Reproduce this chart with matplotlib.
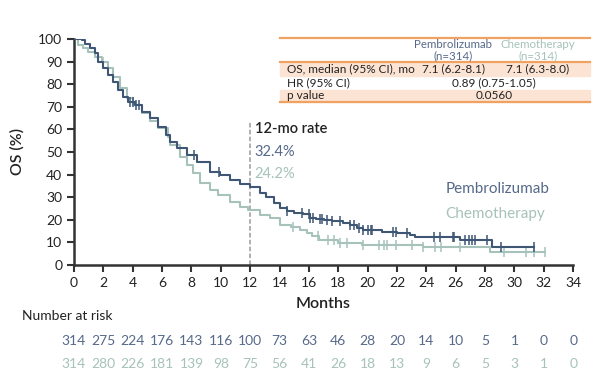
import numpy as np
import matplotlib
matplotlib.use("Agg")
import matplotlib.pyplot as plt
from matplotlib.patches import Rectangle
from matplotlib.lines import Line2D

plt.rcParams['font.family'] = ['Lato', 'DejaVu Sans']

# ---- data ----
pem_t = [0, 0.52, 0.75, 1.09, 1.43, 1.66, 2.0, 2.34, 2.68, 3.02, 3.36, 3.7, 4.16, 4.6, 5.18,
         5.74, 6.3, 6.54, 7.0, 7.67, 8.36, 9.26, 9.95, 10.63, 11.3, 12.0, 12.67, 13.1, 13.6,
         14.03, 14.5, 15.0, 15.6, 16.1, 16.5, 17.0, 17.6, 18.3, 18.8, 19.3, 19.7, 20.5, 21.0,
         22.0, 22.9, 23.2, 26.3, 28.5, 31.3]
pem_s = [100, 99.5, 98, 95.9, 93.7, 90, 87, 84, 81, 77.4, 74.5, 72.3, 70.8, 67.8, 64.9,
         61.2, 57.5, 54.6, 51.6, 48.7, 45.7, 41.3, 39.8, 37.6, 35.8, 34.6, 31.7, 30, 27.3,
         25.1, 24, 23, 22.5, 21, 20.3, 20, 19.5, 18.5, 17.5, 16.5, 15.7, 15.3, 14.5,
         14.2, 13.3, 12.5, 11.1, 8.1, 8.1]
chemo_t = [0, 0.3, 0.63, 0.97, 1.43, 1.89, 2.34, 2.68, 3.13, 3.59, 4.04, 4.6, 5.18, 5.74,
           6.42, 6.54, 7.22, 7.67, 8.13, 8.58, 9.26, 9.83, 10.6, 11.3, 11.87, 12.67, 13.35,
           14.0, 14.8, 15.4, 15.9, 16.2, 16.7, 18.0, 19.6, 23.8, 28.3, 32.1]
chemo_s = [100, 97.3, 95.9, 94.4, 92.2, 90, 87, 83.3, 78.2, 73.8, 70.8, 67.1, 63.7, 60.5,
           56.8, 53.1, 47.9, 44.2, 40.6, 36.2, 33.2, 31, 28, 25.8, 24.3, 22.1, 20.7,
           17.7, 17.0, 15.5, 14.0, 12.8, 11.1, 9.9, 8.8, 7.8, 5.9, 5.9]
pem_cens = [3.8, 4.0, 4.2, 4.4, 8.2, 9.9, 14.5, 15.5, 16.0, 16.1, 16.3, 16.76, 16.9, 17.2, 17.6,
            18.1, 18.8, 19.1, 19.4, 19.7, 20.0, 20.2, 20.3, 21.7, 21.9, 22.7, 24.5, 24.9,
            25.8, 25.9, 26.6, 26.9, 27.1, 27.3, 28.1, 29.1, 31.3]
chemo_cens = [2.0, 14.9, 16.6, 17.3, 17.7, 18.1, 18.6, 19.7, 20.8, 21.1, 21.3, 21.9, 23.0,
              23.8, 24.6, 25.0, 26.3, 29.3, 30.8, 31.3, 32.1]
risk_months = list(range(0, 35, 2))
risk_pem = [314, 275, 224, 176, 143, 116, 100, 73, 63, 46, 28, 20, 14, 10, 5, 1, 0, 0]
risk_chemo = [314, 280, 226, 181, 139, 98, 75, 56, 41, 26, 18, 13, 9, 6, 5, 3, 1, 0]

rate_pem = "32.4%"
rate_chemo = "24.2%"

table_header = ["", "Pembrolizumab\n(n=314)", "Chemotherapy\n(n=314)"]
table_rows = [["OS, median (95% CI), mo", "7.1 (6.2-8.1)", "7.1 (6.3-8.0)"],
              ["HR (95% CI)", "0.89 (0.75-1.05)", None],
              ["p value", "0.0560", None]]

C_PEM = "#3f5674"
C_CHEMO = "#a6c2ba"
C_PEM_TXT = "#56698a"
C_AX = "#333333"
C_OR = "#f0a263"
C_SHADE = "#fce4d4"

def surv_at(t, ts, ss):
    idx = np.searchsorted(ts, t, side='right') - 1
    return np.array(ss)[np.clip(idx, 0, len(ss) - 1)]

fig = plt.figure(figsize=(6.04, 3.85), dpi=100)
ax = fig.add_axes([0.1225, 0.3117, 0.8265, 0.587])

ax.plot(chemo_t, chemo_s, drawstyle='steps-post', color=C_CHEMO, lw=1.5, zorder=3)
ax.plot(pem_t, pem_s, drawstyle='steps-post', color=C_PEM, lw=1.5, zorder=4)
ax.plot(chemo_cens, surv_at(np.array(chemo_cens), chemo_t, chemo_s), ls='none', marker='|',
        ms=7, mew=1.1, color=C_CHEMO, zorder=3)
ax.plot(pem_cens, surv_at(np.array(pem_cens), pem_t, pem_s), ls='none', marker='|',
        ms=7, mew=1.1, color=C_PEM, zorder=4)

ax.plot([12, 12], [0, 63], ls=(0, (3, 1.5)), color="#9a9a9a", lw=1.1, zorder=2)
ax.text(12.3, 60.2, "12-mo rate", fontsize=10.5, fontweight='semibold', color="#222222", va='center')
ax.text(12.3, 50, rate_pem, fontsize=10.5, color=C_PEM_TXT, va='center')
ax.text(12.3, 40.3, rate_chemo, fontsize=10.5, color=C_CHEMO, va='center')
ax.text(25.3, 33.6, "Pembrolizumab", fontsize=11, color=C_PEM_TXT, va='center')
ax.text(25.3, 22.6, "Chemotherapy", fontsize=11, color=C_CHEMO, va='center')

ax.set_xlim(0, 34)
ax.set_ylim(0, 100)
ax.set_xticks(range(0, 35, 2))
ax.set_yticks(range(0, 101, 10))
ax.tick_params(direction='out', length=5, width=1.5, color=C_AX, labelsize=10, labelcolor="#222222")
for s in ['top', 'right']:
    ax.spines[s].set_visible(False)
for s in ['left', 'bottom']:
    ax.spines[s].set_linewidth(1.8)
    ax.spines[s].set_color(C_AX)
ax.set_xlabel("Months", fontsize=11.5, fontweight='semibold', color="#222222", labelpad=6)
ax.set_ylabel("OS (%)", fontsize=11.5, fontweight='semibold', color="#222222", labelpad=10)

# number at risk
fig.text(22 / 604, 1 - 316 / 385, "Number at risk", fontsize=10, color="#222222", va='center')
for m, a, b in zip(risk_months, risk_pem, risk_chemo):
    xf = ax.transData.transform((m, 0))[0] / fig.bbox.width
    fig.text(xf, 1 - 341 / 385, str(a), fontsize=10, color=C_PEM_TXT, ha='center', va='center')
    fig.text(xf, 1 - 364 / 385, str(b), fontsize=10, color=C_CHEMO, ha='center', va='center')

# table
def fy(p):
    return 1 - p / 385
def fx(p):
    return p / 604
L, R = 280, 590
row_edges = [62.3, 76, 89.5, 101.5]
for i, (y0, y1) in enumerate(zip(row_edges[:-1], row_edges[1:])):
    if i != 1:
        fig.patches.append(Rectangle((fx(L), fy(y1)), fx(R) - fx(L), fy(y0) - fy(y1),
                                     transform=fig.transFigure, color=C_SHADE, zorder=0))
for yl in [38.3, 62.3, 101.5]:
    fig.lines.append(Line2D([fx(L), fx(R)], [fy(yl), fy(yl)], transform=fig.transFigure,
                            color=C_OR, lw=1.6))
col_x = [287, 453, 538]
merged_x = 494
fig.text(fx(col_x[1]), fy(50), table_header[1], fontsize=8.3, color=C_PEM_TXT, ha='center',
         va='center', linespacing=1.0)
fig.text(fx(col_x[2]), fy(50), table_header[2], fontsize=8.3, color=C_CHEMO, ha='center',
         va='center', linespacing=1.0)
for i, row in enumerate(table_rows):
    yc = fy((row_edges[i] + row_edges[i + 1]) / 2)
    fig.text(fx(col_x[0]), yc, row[0], fontsize=8.5, color="#222222", va='center')
    if row[2] is None:
        fig.text(fx(merged_x), yc, row[1], fontsize=8.5, color="#222222", ha='center', va='center')
    else:
        fig.text(fx(col_x[1]), yc, row[1], fontsize=8.5, color="#222222", ha='center', va='center')
        fig.text(fx(col_x[2]), yc, row[2], fontsize=8.5, color="#222222", ha='center', va='center')

fig.savefig("out.png", dpi=100)
